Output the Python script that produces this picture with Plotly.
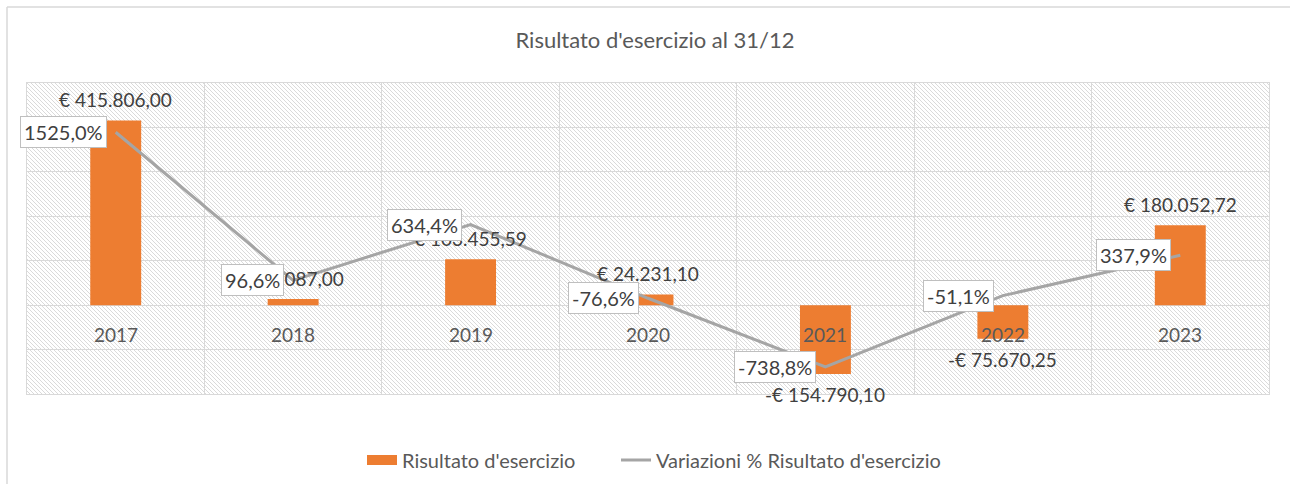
import base64
import plotly.graph_objects as go

# ---- data ----
anni = ["2017", "2018", "2019", "2020", "2021", "2022", "2023"]
risultato = [415806.00, 14087.00, 103455.59, 24231.10, -154790.10, -75670.25, 180052.72]
variazioni = [1525.0, 96.6, 634.4, -76.6, -738.8, -51.1, 337.9]

titolo = "Risultato d'esercizio al 31/12"
nome_barre = "Risultato d'esercizio"
nome_linea = "Variazioni % Risultato d'esercizio"

FONT = "Lato"
GREY_TXT = "#595959"
LBL_TXT = "#404040"
GRID = "#D9D9D9"
ORANGE = "#ED7D31"
LINE_C = "#A5A5A5"


def euro(v):
    s = f"{abs(v):,.2f}".replace(",", "X").replace(".", ",").replace("X", ".")
    return ("-€ " if v < 0 else "€ ") + s


def perc(v):
    return f"{v:.1f}".replace(".", ",") + "%"


W, H = 1290, 484
ML, MR, MT, MB = 27, 21, 83, 90
PW, PH = W - ML - MR, H - MT - MB

svg = (
    f'<svg xmlns="http://www.w3.org/2000/svg" width="{PW}" height="{PH}" '
    f'viewBox="0 0 {PW} {PH}" preserveAspectRatio="none">'
    '<defs><pattern id="p" width="4" height="4" patternUnits="userSpaceOnUse">'
    '<rect width="4" height="4" fill="white"/>'
    '<path d="M-1,-1 L5,5 M-1,3 L1,5 M3,-1 L5,1" stroke="#DADADA" stroke-width="1"/>'
    '</pattern></defs>'
    f'<rect width="{PW}" height="{PH}" fill="url(#p)"/></svg>'
)
svg_uri = "data:image/svg+xml;base64," + base64.b64encode(svg.encode()).decode()

fig = go.Figure()
fig.add_trace(go.Bar(
    x=anni, y=risultato, name=nome_barre, showlegend=False,
    marker=dict(color=ORANGE, line=dict(width=0)),
    width=0.287, yaxis="y", hoverinfo="skip",
))
# legend proxy giving the wide Excel-style swatch for the bars
fig.add_trace(go.Scatter(
    x=[None], y=[None], name=nome_barre, mode="lines",
    line=dict(color=ORANGE, width=10), yaxis="y", hoverinfo="skip",
    legend="legend",
))
fig.add_trace(go.Scatter(
    x=anni, y=variazioni, name=nome_linea, mode="lines",
    line=dict(color=LINE_C, width=3), yaxis="y2", hoverinfo="skip",
    legend="legend2",
))

# category labels at the zero line
for i, a in enumerate(anni):
    fig.add_annotation(x=i, y=0, xref="x", yref="y", text=a, showarrow=False,
                       yanchor="top", yshift=-16,
                       font=dict(family=FONT, size=19, color=GREY_TXT))
# bar value labels
for i, v in enumerate(risultato):
    fig.add_annotation(x=i, y=v, xref="x", yref="y", text=euro(v), showarrow=False,
                       yanchor="bottom" if v >= 0 else "top",
                       yshift=7 if v >= 0 else -7,
                       font=dict(family=FONT, size=19, color=LBL_TXT))
# percentage callouts
for i, p in enumerate(variazioni):
    fig.add_annotation(x=i, y=p, xref="x", yref="y2", text=perc(p), showarrow=False,
                       xanchor="right", yanchor="middle", xshift=-9,
                       bgcolor="white", bordercolor="#BFBFBF", borderwidth=1,
                       borderpad=3,
                       font=dict(family=FONT, size=20, color=LBL_TXT))


def px_x(px):
    return (px - ML) / PW


def px_y(py):
    return (H - MB - py) / PH


shapes = [
    dict(type="line", xref="paper", yref="paper", x0=px_x(7), x1=px_x(W + 5),
         y0=px_y(7), y1=px_y(7), line=dict(color=GRID, width=1.5)),
    dict(type="line", xref="paper", yref="paper", x0=px_x(7), x1=px_x(7),
         y0=px_y(7), y1=px_y(H + 5), line=dict(color=GRID, width=1.5)),
]

legend_common = dict(orientation="h", xanchor="left",
                     y=1 - 460 / H, yref="container", yanchor="middle",
                     font=dict(family=FONT, size=20, color=GREY_TXT),
                     bgcolor="rgba(0,0,0,0)")

fig.update_layout(
    width=W, height=H,
    margin=dict(l=ML, r=MR, t=MT, b=MB, autoexpand=False),
    paper_bgcolor="white", plot_bgcolor="white",
    title=dict(text=titolo, x=655 / W, xref="container", xanchor="center",
               y=1 - 40 / H, yref="container", yanchor="middle",
               font=dict(family=FONT, size=22, color=GREY_TXT)),
    font=dict(family=FONT, color=GREY_TXT),
    showlegend=True,
    legend=dict(x=px_x(362), **legend_common),
    legend2=dict(x=px_x(616), **legend_common),
    xaxis=dict(type="category", range=[-0.5, 6.5], tickson="boundaries",
               showgrid=True, gridcolor=GRID, gridwidth=1,
               showticklabels=False, ticks="", showline=True, mirror=True,
               linecolor=GRID, linewidth=1, zeroline=False, fixedrange=True),
    yaxis=dict(range=[-200000, 500000], dtick=100000, showgrid=True,
               gridcolor=GRID, gridwidth=1, showticklabels=False, ticks="",
               zeroline=False, showline=True, mirror=True, linecolor=GRID,
               linewidth=1, fixedrange=True),
    yaxis2=dict(range=[-1000, 2000], overlaying="y", side="right",
                showticklabels=False, showgrid=False, zeroline=False,
                showline=False, ticks="", fixedrange=True),
    shapes=shapes,
    images=[dict(source=svg_uri, xref="paper", yref="paper", x=0, y=1,
                 sizex=1, sizey=1, xanchor="left", yanchor="top",
                 sizing="stretch", layer="below")],
)

fig.write_html("out.html", config={"displayModeBar": False},
               post_script="document.body.style.margin='0';")
